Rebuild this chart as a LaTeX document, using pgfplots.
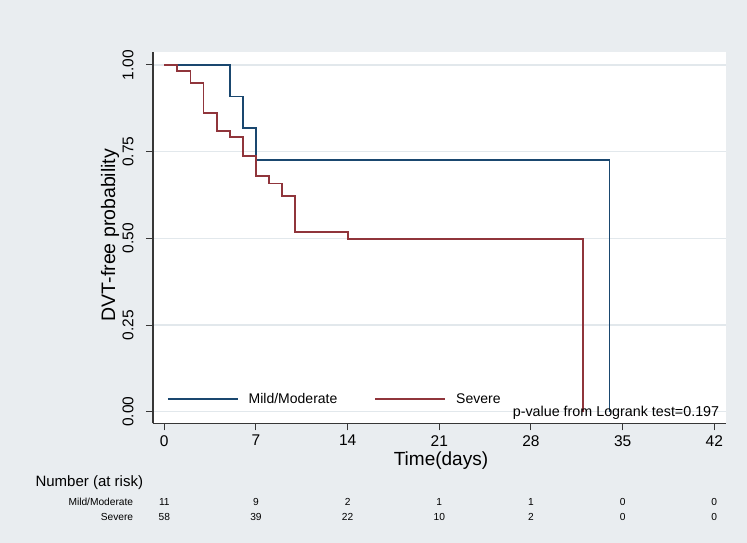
\documentclass[border=0pt]{standalone}
\usepackage{fontspec}
\setmainfont{Liberation Sans}
\usepackage{pgfplots}
\pgfplotsset{compat=1.18}
\definecolor{bg}{RGB}{233,237,240}
\definecolor{gridc}{RGB}{226,232,236}
\definecolor{navy}{RGB}{26,71,111}
\definecolor{maroon}{RGB}{144,53,59}
\definecolor{axc}{RGB}{55,55,55}
\tikzset{risk/.style={font=\fontsize{10.2bp}{12bp}\selectfont}}
\begin{document}
\begin{tikzpicture}
\fill[bg] (-153bp,-119.7bp) rectangle (594bp,423.3bp);
\begin{axis}[
  at={(0,0)}, anchor=south west,
  scale only axis, width=573bp, height=371.3bp,
  xmin=-0.863, xmax=42.893, ymin=-0.0335, ymax=1.0375,
  axis x line*=bottom, axis y line*=left,
  axis line style={axc, line width=1.2bp},
  axis background/.style={fill=white},
  xtick={0,7,14,21,28,35,42},
  xticklabels={0,7,14,21,28,35,42},
  ytick={0,0.25,0.5,0.75,1},
  yticklabels={0.00,0.25,0.50,0.75,1.00},
  tick align=outside, major tick length=7bp,
  tick style={axc, line width=1bp},
  ymajorgrids, major grid style={gridc, line width=1.2bp},
  ticklabel style={font=\fontsize{15.5bp}{18bp}\selectfont, text=black},
  yticklabel style={rotate=90, anchor=south},
  yticklabel shift=9bp,
  xticklabel shift=1.5bp,
  xlabel={Time(days)},
  xlabel style={at={(axis description cs:0.5026,-0.1)}, anchor=center, inner sep=0pt, font=\fontsize{19bp}{21bp}\selectfont},
  ylabel={DVT-free probability},
  ylabel style={at={(axis description cs:-0.0750,0.507)}, anchor=center, font=\fontsize{19.5bp}{22bp}\selectfont},
  clip=false,
  legend columns=2,
  legend cell align=left,
  legend image code/.code={\draw[#1] (0bp,0bp) -- (70bp,0bp);},
  legend style={at={(0.0239,0.0654)}, anchor=west, draw=none, fill=none,
    inner sep=0pt, font=\fontsize{14bp}{16bp}\selectfont,
    nodes={inner sep=0pt},
    /tikz/every odd column/.append style={column sep=10bp},
    /tikz/every even column/.append style={column sep=37bp}},
]
\addplot[const plot, draw=navy, line width=1.8bp, line join=miter] coordinates {
  (0,1) (5,0.909) (6,0.818) (7,0.727) (34,0)
};
\addlegendentry{Mild/Moderate}
\addplot[const plot, draw=maroon, line width=1.8bp, line join=miter] coordinates {
  (0,1) (1,0.983) (2,0.948) (3,0.862) (4,0.810) (5,0.793) (6,0.737)
  (7,0.679) (8,0.658) (9,0.623) (10,0.518) (14,0.497) (32,0)
};
\addlegendentry{Severe}
\node[anchor=base east, font=\fontsize{14.3bp}{16bp}\selectfont] at (rel axis cs:0.9942,0.017) {p-value from Logrank test=0.197};
% number at risk table
\node[anchor=west, font=\fontsize{15bp}{17bp}\selectfont] at (axis cs:-10.10,-0.2057) {Number (at risk)};
\node[anchor=east, risk] at (axis cs:-2.108,-0.2605) {Mild/Moderate};
\node[anchor=east, risk] at (axis cs:-2.108,-0.303) {Severe};
\node[risk] at (axis cs:0,-0.2605) {11};
\node[risk] at (axis cs:7,-0.2605) {9};
\node[risk] at (axis cs:14,-0.2605) {2};
\node[risk] at (axis cs:21,-0.2605) {1};
\node[risk] at (axis cs:28,-0.2605) {1};
\node[risk] at (axis cs:35,-0.2605) {0};
\node[risk] at (axis cs:42,-0.2605) {0};
\node[risk] at (axis cs:0,-0.303) {58};
\node[risk] at (axis cs:7,-0.303) {39};
\node[risk] at (axis cs:14,-0.303) {22};
\node[risk] at (axis cs:21,-0.303) {10};
\node[risk] at (axis cs:28,-0.303) {2};
\node[risk] at (axis cs:35,-0.303) {0};
\node[risk] at (axis cs:42,-0.303) {0};
\end{axis}
\end{tikzpicture}
\end{document}
